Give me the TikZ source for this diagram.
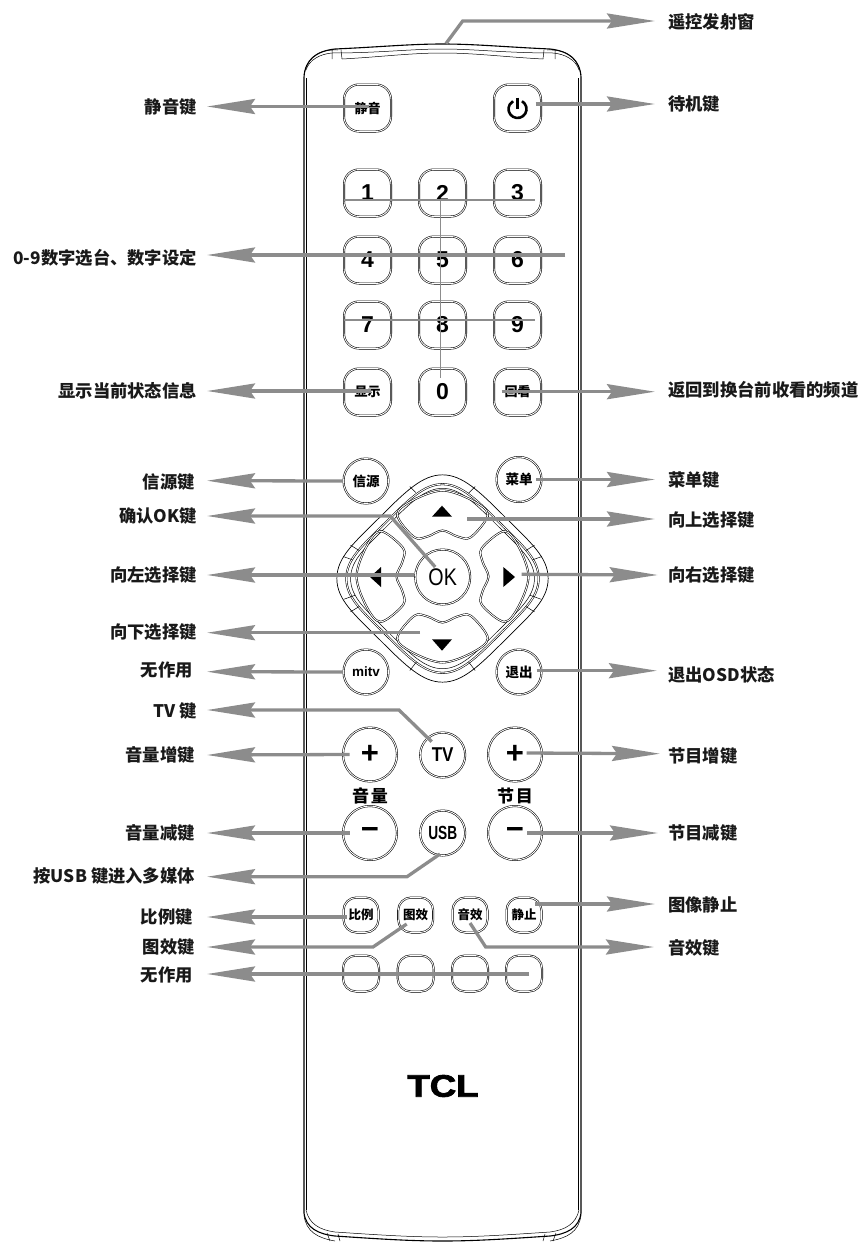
\documentclass[tikz,border=0pt]{standalone}
\usepackage{fontspec}
\setmainfont{Noto Sans CJK SC}
\newfontfamily\latinf{Liberation Sans}
\newfontfamily\tclf[FakeBold=2.5]{Liberation Sans Bold}
\usetikzlibrary{arrows.meta,calc}
\definecolor{conn}{HTML}{8C8C8C}
\newcommand{\ringpath}{(0,-311) .. controls (60,-311) and (110,-262) .. (186,-186) .. controls (262,-110) and (317,-65) .. (317,0) .. controls (317,65) and (262,110) .. (186,186) .. controls (110,262) and (60,311) .. (0,311) .. controls (-60,311) and (-110,262) .. (-186,186) .. controls (-262,110) and (-317,65) .. (-317,0) .. controls (-317,-65) and (-262,-110) .. (-186,-186) .. controls (-110,-262) and (-60,-311) .. (0,-311) -- cycle}
\tikzset{
  labL/.style={anchor=east,inner sep=0pt,font=\fontsize{17.3}{19}\selectfont\bfseries,text=black!90},
  labR/.style={anchor=west,inner sep=0pt,font=\fontsize{17.3}{19}\selectfont\bfseries,text=black!90},
  callout/.style={draw=conn,line width=3.3pt,-{Stealth[length=48pt,width=15pt,inset=5pt]},line join=miter},
  thinbar/.style={draw=conn,line width=1.5pt},
  outl/.style={draw=black,line width=.55pt,double=white,double distance=.9pt},
  btn/.style={outl,rectangle,rounded corners=15pt,minimum width=47pt,minimum height=47pt,inner sep=0pt,font=\latinf\fontsize{23}{25}\selectfont\bfseries},
  smallkey/.style={outl,rectangle,rounded corners=13pt,minimum width=35pt,minimum height=35pt,inner sep=0pt,font=\fontsize{12.5}{14}\selectfont\bfseries},
  round/.style={outl,circle,inner sep=0pt,minimum size=45pt,font=\fontsize{13.5}{15}\selectfont\bfseries},
  bigkey/.style={outl,circle,inner sep=0pt,minimum size=54pt,font=\latinf\fontsize{31}{33}\selectfont\bfseries},
  body/.style={draw=black,line width=1.1pt},
  fine/.style={draw=black,line width=.5pt},
  tri/.style={fill=black,draw=none},
}
\begin{document}
\begin{tikzpicture}[x=1pt,y=-1pt]
\useasboundingbox (0,0) rectangle (862,1242);
% body
\draw[body] (304,1213) -- (304,77) .. controls (305,60) and (316,51) .. (335,49) .. controls (380,47) and (410,44) .. (442.5,44) .. controls (475,44) and (505,47) .. (550,49) .. controls (569,51) and (580,60) .. (581,77) -- (581,1213);
\draw[fine] (306.3,1210) -- (306.3,78);
\draw[fine] (578.7,1210) -- (578.7,78);
\draw[fine] (304,75) .. controls (307,58) and (318,49) .. (338,50);
\draw[fine] (581,75) .. controls (578,58) and (567,49) .. (547,50);
\draw[fine] (306,70) .. controls (309,60) and (320,54) .. (332,53) .. controls (380,53) and (410,49) .. (442.5,49) .. controls (475,49) and (505,53) .. (553,53) .. controls (565,54) and (576,60) .. (579,70);
\draw[fine] (342,59) .. controls (380,57) and (410,53) .. (442.5,53) .. controls (475,53) and (505,57) .. (543,59);
\draw[fine] (332,50) -- (332,59) (341,50) -- (342,59) (544,50) -- (543,59) (555,50) -- (555,59);
\draw[body] (304,1213) .. controls (306,1228) and (318,1234) .. (335,1236) .. controls (380,1239) and (410,1241) .. (442.5,1241) .. controls (475,1241) and (505,1239) .. (550,1236) .. controls (567,1234) and (579,1228) .. (581,1213);
\draw[fine] (306,1210) .. controls (309,1224) and (320,1230) .. (335,1232) .. controls (380,1235) and (410,1237) .. (442.5,1237) .. controls (475,1237) and (505,1235) .. (550,1232) .. controls (565,1230) and (576,1224) .. (579,1210);
\draw[fine] (327,1233) -- (330,1241) (338,1234) -- (340,1241) (545,1234) -- (543,1241) (556,1233) -- (553,1241);
\draw[fine] (304,1215) .. controls (306,1232) and (318,1238) .. (335,1241) (581,1215) .. controls (579,1232) and (567,1238) .. (550,1241);
% top keys
\node[btn,font=\fontsize{13}{15}\selectfont\bfseries] (mute) at (367.5,108) {静音};
\node[btn] (power) at (517.5,108) {};
\draw[line width=2.6pt] ($(power)+(4.5,-6.8)$) arc[start angle=60,end angle=-240,radius=9pt];
\draw[line width=2.6pt] ($(power)+(0,-10.5)$) -- ($(power)+(0,1)$);
\node[btn] (k1) at (367.5,193) {1};
\node[btn] (k2) at (442.5,193) {2};
\node[btn] (k3) at (517.5,193) {3};
\node[btn] (k4) at (367.5,260) {4};
\node[btn] (k5) at (442.5,260) {5};
\node[btn] (k6) at (517.5,260) {6};
\node[btn] (k7) at (367.5,325) {7};
\node[btn] (k8) at (442.5,325) {8};
\node[btn] (k9) at (517.5,325) {9};
\node[btn,font=\fontsize{13}{15}\selectfont\bfseries] (disp) at (367.5,392) {显示};
\node[btn] (k0) at (442.5,392) {0};
\node[btn,font=\fontsize{13}{15}\selectfont\bfseries] (back) at (517.5,392) {回看};
% d-pad
\node[round] (src) at (366,481) {信源};
\node[round] (menu) at (519,479.5) {菜单};
\node[round] (mitv) at (366,672) {\latinf mitv};
\node[round] (exit) at (519,672) {退出};
\begin{scope}[shift={(442.5,578.5)},scale=1/3]
  \draw[fine,line width=.7pt] \ringpath;
  \begin{scope}[scale=.91]
    \draw[outl] \ringpath;
  \end{scope}
  \begin{scope}[scale=.87]
    \draw[fine] \ringpath;
  \end{scope}
  \draw[fine] (-98,-276) -- (-80,-258) (98,-276) -- (78,-256)
    (-276,-100) -- (-250,-84) (-298,-66) -- (-270,-56) (-295,62) -- (-262,50) (-276,100) -- (-250,84)
    (276,-100) -- (250,-84) (298,-66) -- (270,-56) (295,62) -- (262,50) (276,100) -- (250,84)
    (-98,276) -- (-78,250) (98,276) -- (78,250);
\end{scope}
\foreach \ang in {0,90,180,270}{
  \begin{scope}[shift={(442.5,576.5)},scale=1/3,rotate=\ang]
    \draw[outl] plot[smooth cycle,tension=.55] coordinates {(-136,-185) (-90,-228) (0,-258) (90,-228) (136,-185) (85,-118) (45,-120) (0,-138) (-45,-120) (-85,-118)};
  \end{scope}
}
\fill[tri] (442,505.7) -- (452,516.7) -- (432,516.7) -- cycle;
\fill[tri] (442,650.7) -- (452,639.3) -- (432,639.3) -- cycle;
\fill[tri] (370,577) -- (381,567) -- (381,587) -- cycle;
\fill[tri] (515,577) -- (503.3,567) -- (503.3,587) -- cycle;
\node[outl,circle,minimum size=55pt,inner sep=0pt] (ok) at (442.7,577) {};
\node[xscale=.82,inner sep=0pt,font=\latinf\fontsize{24}{26}\selectfont] (oktxt) at (442.7,577) {OK};
% volume / channel
\node[bigkey] (volp) at (370,754.5) {+};
\node[bigkey] (progp) at (515,754.5) {+};
\node[bigkey] (volm) at (370,833) {−};
\node[bigkey] (progm) at (515,833) {−};
\node[round,font=\latinf\fontsize{20}{22}\selectfont\bfseries] (tv) at (442.7,755) {\scalebox{.85}[1]{TV}};
\node[round,font=\latinf\fontsize{19}{21}\selectfont\bfseries] (usb) at (442.7,833) {\scalebox{.72}[1]{USB}};
\node[inner sep=0pt,font=\fontsize{17}{19}\selectfont\bfseries] (vl) at (370,796) {音\hspace{2pt}量};
\node[inner sep=0pt,font=\fontsize{17}{19}\selectfont\bfseries] (pl) at (515,796) {节\hspace{2pt}目};
% small keys
\node[smallkey] (ratio) at (361,915) {比例};
\node[smallkey] (pic) at (415.7,915) {图效};
\node[smallkey] (snd) at (470,915) {音效};
\node[smallkey] (still) at (524,915) {静止};
\node[smallkey,minimum width=36pt,minimum height=36pt] (e1) at (361,973.5) {};
\node[smallkey,minimum width=36pt,minimum height=36pt] (e2) at (415.7,973.5) {};
\node[smallkey,minimum width=36pt,minimum height=36pt] (e3) at (470,973.5) {};
\node[smallkey,minimum width=36pt,minimum height=36pt] (e4) at (524,973.5) {};
% logo
\node[inner sep=0pt,xscale=1.18,font=\tclf\fontsize{31}{33}\selectfont] (logo) at (443,1086) {TCL};
% left labels
\node[labL] (lmute) at (197,107) {静音键};
\node[labL] (lnum) at (197,258) {0-9数字选台、数字设定};
\node[labL] (ldisp) at (197,391) {显示当前状态信息};
\node[labL] (lsrc) at (195,482) {信源键};
\node[labL] (lok) at (197,516) {确认OK键};
\node[labL] (lleft) at (197,575) {向左选择键};
\node[labL] (ldown) at (197,632) {向下选择键};
\node[labL] (lmitv) at (193,670) {无作用};
\node[labL] (ltv) at (197,711) {TV 键};
\node[labL] (lvolp) at (195,755) {音量增键};
\node[labL] (lvolm) at (195,833) {音量减键};
\node[labL] (lusb) at (195,876) {按USB 键进入多媒体};
\node[labL] (lratio) at (193,917) {比例键};
\node[labL] (lpic) at (195,947) {图效键};
\node[labL] (lnone) at (193,975) {无作用};
% right labels
\node[labR] (rir) at (668,22) {遥控发射窗};
\node[labR] (rpow) at (668,104) {待机键};
\node[labR] (rback) at (668,390) {返回到换台前收看的频道};
\node[labR] (rmenu) at (668,480) {菜单键};
\node[labR] (rup) at (668,520) {向上选择键};
\node[labR] (rright) at (668,575) {向右选择键};
\node[labR] (rexit) at (668,675) {退出OSD状态};
\node[labR] (rprogp) at (668,756) {节目增键};
\node[labR] (rprogm) at (668,833) {节目减键};
\node[labR] (rstill) at (668,905) {图像静止};
\node[labR] (rsnd) at (668,948) {音效键};
% number brackets
\draw[thinbar] ($(k1.west)+(0,7)$) -- ($(k3.east)+(-6,7)$);
\draw[thinbar] ($(k7.west)+(0,-5)$) -- ($(k9.east)+(-6,-5)$);
\draw[thinbar] ($(k2)+(-1.8,7)$) -- ($(k0)+(-1.8,-14)$);
% left connectors
\draw[callout] ($(mute)+(1,-1.5)$) -- ($(lmute.east)+(10,-.5)$);
\draw[callout] ($(k6.east)+(24,-5)$) -- ($(lnum.east)+(10,-3)$);
\draw[callout] ($(disp)+(3,-1)$) -- ($(ldisp.east)+(10,0)$);
\draw[callout] ($(src.west)+(0,0)$) -- ($(lsrc.east)+(12,-1.3)$);
\draw[callout] ($(ok)+(-7.5,-10)$) -- ++(-45,-51) -- ($(lok.east)+(10,0)$);
\draw[callout] ($(ok.west)+(-.5,-2)$) -- ($(lleft.east)+(10,0)$);
\draw[callout] ($(ok)+(-22.5,55.7)$) -- ($(ldown.east)+(10,.7)$);
\draw[callout] ($(mitv.west)+(0,0)$) -- ($(lmitv.east)+(14,1.7)$);
\draw[callout] ($(tv)+(-11,-13.3)$) -- ++(-32.7,-31.7) -- ($(ltv.east)+(10,-1)$);
\draw[callout] ($(volp.west)+(7,0)$) -- ($(lvolp.east)+(12,0)$);
\draw[callout] ($(volm.west)+(7,0)$) -- ($(lvolm.east)+(12,0)$);
\draw[callout] ($(usb)+(-2.7,21)$) -- ++(-33,22.7) -- ($(lusb.east)+(12,.7)$);
\draw[callout] ($(ratio)+(-14.3,2)$) -- ($(lratio.east)+(14,0)$);
\draw[callout] ($(pic)+(-9,9)$) -- ++(-33.7,23) -- ($(lpic.east)+(12,0)$);
\draw[callout] ($(e4)+(5,.5)$) -- ($(lnone.east)+(14,-1)$);
% right connectors
\coordinate (irwin) at (446,43.5);
\draw[callout] (irwin) -- ++(16.7,-22.5) -- ($(rir.west)+(-13,-1)$);
\draw[callout] ($(power)+(18,-4)$) -- ($(rpow.west)+(-13,0)$);
\draw[callout] ($(back)+(-16,-.3)$) -- ($(rback.west)+(-13,1.7)$);
\draw[callout] ($(menu)+(17,0)$) -- ($(rmenu.west)+(-13,-.5)$);
\draw[callout] ($(ok)+(24.3,-58)$) -- ($(rup.west)+(-13,-1)$);
\draw[callout] ($(ok)+(79,-2.7)$) -- ($(rright.west)+(-10.3,0)$);
\draw[callout] ($(exit)+(17.7,-1.3)$) -- ($(rexit.west)+(-11,-4.3)$);
\draw[callout] ($(progp)+(11.7,-1.5)$) -- ($(rprogp.west)+(-8,-2.3)$);
\draw[callout] ($(progm)+(12,0)$) -- ($(rprogm.west)+(-10,0)$);
\draw[callout] ($(still)+(11,-11)$) -- ($(rstill.west)+(-13,-1)$);
\draw[callout] ($(snd)+(0,8)$) -- ++(15.7,24) -- ($(rsnd.west)+(-14,-1)$);
\end{tikzpicture}
\end{document}
